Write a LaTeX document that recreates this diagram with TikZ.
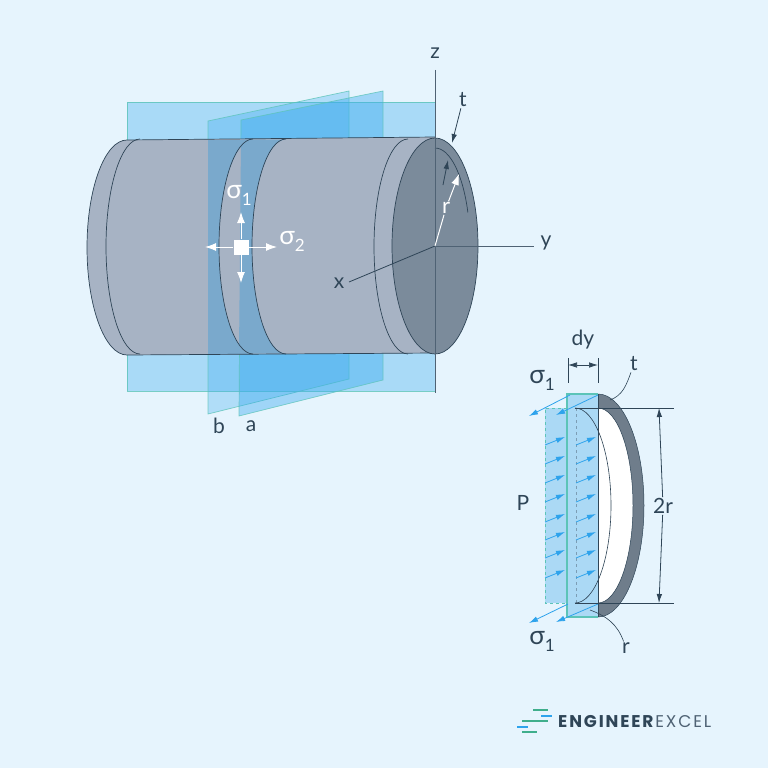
\documentclass[tikz,border=0pt]{standalone}
\usepackage{fontspec}
\setmainfont{Lato}
\newfontfamily\logofont[LetterSpace=11]{Poppins}
\usepackage{tikz}
\usetikzlibrary{arrows}
\usetikzlibrary{arrows.meta}
\definecolor{pagebg}{HTML}{E6F4FD}
\definecolor{shell}{HTML}{A7B3C4}
\definecolor{endface}{HTML}{7B8B9B}
\definecolor{shelltint}{HTML}{7AA9CC}
\definecolor{inkline}{HTML}{2F4557}
\definecolor{axisline}{HTML}{4F6274}
\definecolor{planeblue}{HTML}{35A8EE}
\definecolor{planeedge}{HTML}{5CC4B8}
\definecolor{platefill}{HTML}{ABD9F5}
\definecolor{ringfill}{HTML}{6F7D8B}
\definecolor{arrowblue}{HTML}{2EA3EC}
\definecolor{logogreen}{HTML}{3FAE8C}
\newcommand{\sigmalabel}[1]{{\fontsize{26}{26}\selectfont σ}\raisebox{-7pt}{\fontsize{17}{17}\selectfont #1}}
\tikzset{
    plane/.style={fill=planeblue, draw=planeedge, fill opacity=#1, draw opacity=.8, line width=.7pt},
    outline/.style={draw=inkline, line width=.7pt},
    label/.style={text=inkline, font=\fontsize{21}{24}\selectfont, inner sep=1pt},
    whitelabel/.style={text=white, font=\fontsize{22}{24}\selectfont, inner sep=1pt},
    whitearrow/.style={draw=white, line width=1pt, -{Latex[length=11pt, width=8pt]}},
    blockarrow/.style={draw=arrowblue, line width=.8pt, -{Latex[length=9pt, width=5.5pt]}},
    inkarrow/.style={draw=inkline, line width=.8pt, -{Latex[length=9pt, width=5.5pt]}},
    logobar/.style={line width=2pt}
}
\begin{document}
\begin{tikzpicture}[x=1pt, y=-1pt]
        \useasboundingbox (0, 0) rectangle (768, 768);
        \fill[pagebg] (0, 0) rectangle (768, 768);

        \draw[plane=.34] (127, 102) rectangle (435, 391);
        \draw[plane=.3] (208, 121) -- (349, 91) -- (349, 379) -- (208, 414) -- cycle;
        \draw[plane=.4] (241, 120) -- (383, 91) -- (383, 380) -- (239, 416) -- cycle;

        \fill[shell] (127, 140) arc[start angle=270, end angle=90, x radius=40, y radius=107.5]
            -- (435, 353) -- (435, 137) -- cycle;
        \fill[shelltint] (208, 140) -- (253, 140) arc[start angle=270, end angle=90, x radius=34, y radius=107]
            -- (208, 354) -- cycle;
        \fill[shelltint] (241, 139.5) -- (286, 139.5) arc[start angle=270, end angle=90, x radius=34, y radius=107]
            -- (239, 353.5) -- cycle;

        \draw[outline] (435, 137) -- (127, 140)
            arc[start angle=270, end angle=90, x radius=40, y radius=107.5] -- (435, 353);
        \foreach \topx in {140, 253, 286, 408}
        {
            \draw[outline] (\topx, 139) arc[start angle=270, end angle=90, x radius=34, y radius=107.5];
        }

        \fill[endface] (435, 246) ellipse[x radius=43, y radius=108];
        \draw[outline] (435, 246) ellipse[x radius=43, y radius=108];
        \draw[outline] (435, 148) arc[start angle=-90, end angle=-20, x radius=35, y radius=98];

        \coordinate (origin) at (435, 246);
        \coordinate (ztop) at (435, 70);
        \coordinate (zend) at (435, 393);
        \coordinate (yend) at (534, 246);
        \coordinate (xend) at (349, 282);
        \node[label] (zlabel) at (435, 53) {z};
        \node[label] (ylabel) at (546, 243) {y};
        \node[label] (xlabel) at (339, 283) {x};
        \draw[axisline, line width=1pt] (ztop) -- (zend);
        \draw[axisline, line width=1pt] (origin) -- (yend);
        \draw[inkline, line width=.8pt] (origin) -- (xend);

        \node[label] (tlabel) at (463, 100) {t};
        \coordinate (ttip) at (452, 143);
        \draw[inkarrow] (tlabel) -- (ttip);
        \coordinate (innerstart) at (443, 185);
        \coordinate (innertip) at (448, 160);
        \draw[inkarrow] (innerstart) -- (innertip);

        \node[whitelabel] (rlabel) at (446, 208) {r};
        \coordinate (rtip) at (459, 174);
        \draw[draw=white, line width=1pt] (origin) -- (rlabel);
        \draw[whitearrow] (rlabel) -- (rtip);

        \node[fill=white, minimum size=15pt, inner sep=0pt] (element) at (241, 247) {};
        \coordinate (uptip) at (241, 212);
        \coordinate (downtip) at (241, 283);
        \coordinate (lefttip) at (205, 247);
        \coordinate (righttip) at (277, 247);
        \foreach \tip in {uptip, downtip, lefttip, righttip}
        {
            \draw[whitearrow] (element) -- (\tip);
        }
        \node[whitelabel] (sigmaone) at (239, 195) {\sigmalabel{1}};
        \node[whitelabel] (sigmatwo) at (292, 241) {\sigmalabel{2}};

        \node[label] (blabel) at (219, 426) {b};
        \node[label] (alabel) at (251, 426) {a};

        \fill[white] (598, 408) arc[start angle=270, end angle=450, x radius=35, y radius=97.5] -- cycle;
        \fill[ringfill, draw=inkline, line width=.5pt, even odd rule]
            (598, 394) arc[start angle=270, end angle=450, x radius=46, y radius=111.5]
            -- (598, 603) arc[start angle=90, end angle=-90, x radius=35, y radius=97.5] -- cycle;
        \fill[platefill] (545, 408) rectangle (567, 603);
        \fill[platefill] (567, 394) rectangle (598, 617);
        \draw[planeedge, line width=.8pt, dashed] (567, 408) -- (545, 408) -- (545, 603) -- (567, 603);
        \draw[planeedge, line width=1.1pt] (598, 394) -- (567, 394) -- (567, 617) -- (598, 617);
        \draw[axisline, line width=.8pt, dashed, opacity=.5] (576, 408) -- (576, 603);
        \draw[inkline, line width=.8pt] (598, 394) -- (598, 617);
        \draw[inkline, line width=.6pt] (575, 408) arc[start angle=270, end angle=450, x radius=36, y radius=97.5];

        \foreach \rowy in {445, 464, 483, 502, 522, 540, 558, 578}
        {
            \draw[blockarrow] (545, \rowy) -- (565, \rowy - 8);
            \draw[blockarrow] (576, \rowy) -- (596, \rowy - 8);
        }
        \draw[blockarrow] (570, 395) -- (529, 416);
        \draw[blockarrow] (598, 395) -- (556, 415);
        \draw[blockarrow] (568, 604) -- (529, 623);
        \draw[blockarrow] (598, 604) -- (556, 622);

        \coordinate (dimtopend) at (674, 408);
        \coordinate (dimbotend) at (674, 603);
        \coordinate (dimtopstart) at (575, 408);
        \coordinate (dimbotstart) at (575, 603);
        \draw[inkline, line width=.7pt] (dimtopstart) -- (dimtopend);
        \draw[inkline, line width=.7pt] (dimbotstart) -- (dimbotend);
        \node[label] (tworlabel) at (663, 506) {2r};
        \coordinate (twortop) at (659, 408);
        \coordinate (tworbot) at (659, 603);
        \draw[inkarrow] (tworlabel) -- (twortop);
        \draw[inkarrow] (tworlabel) -- (tworbot);

        \node[label] (dylabel) at (583, 340) {dy};
        \coordinate (dyleft) at (568, 365);
        \coordinate (dyright) at (598, 365);
        \draw[inkline, line width=.7pt] (568, 358) -- (568, 383);
        \draw[inkline, line width=.7pt] (598, 358) -- (598, 383);
        \draw[inkline, line width=.7pt, {Latex[length=9pt, width=5.5pt]}-{Latex[length=9pt, width=5.5pt]}] (dyleft) -- (dyright);

        \node[label] (sigmatop) at (542, 380) {\sigmalabel{1}};
        \node[label] (sigmabot) at (542, 641) {\sigmalabel{1}};
        \node[label] (plabel) at (523, 503) {P};

        \node[label] (tsmall) at (634, 364) {t};
        \coordinate (tend) at (610, 400);
        \draw[inkline, line width=.6pt] (tsmall) to[out=250, in=20] (tend);
        \node[label] (rsmall) at (626, 648) {r};
        \coordinate (rend) at (590, 610);
        \draw[inkline, line width=.6pt] (rsmall) to[out=110, in=-20] (rend);

        \draw[logogreen, logobar] (533, 710) -- (548, 710);
        \draw[arrowblue, logobar] (541, 716) -- (552, 716);
        \draw[logogreen, logobar] (522, 721) -- (548, 721);
        \draw[arrowblue, logobar] (517, 727) -- (528, 727);
        \draw[logogreen, logobar] (522, 732) -- (537, 732);
        \node[anchor=west, inner sep=0pt, text=inkline, font=\logofont\fontsize{17}{18}\selectfont] (logo) at (558, 722)
            {\textbf{ENGINEER}\textcolor{axisline}{EXCEL}};
    \end{tikzpicture}
\end{document}
